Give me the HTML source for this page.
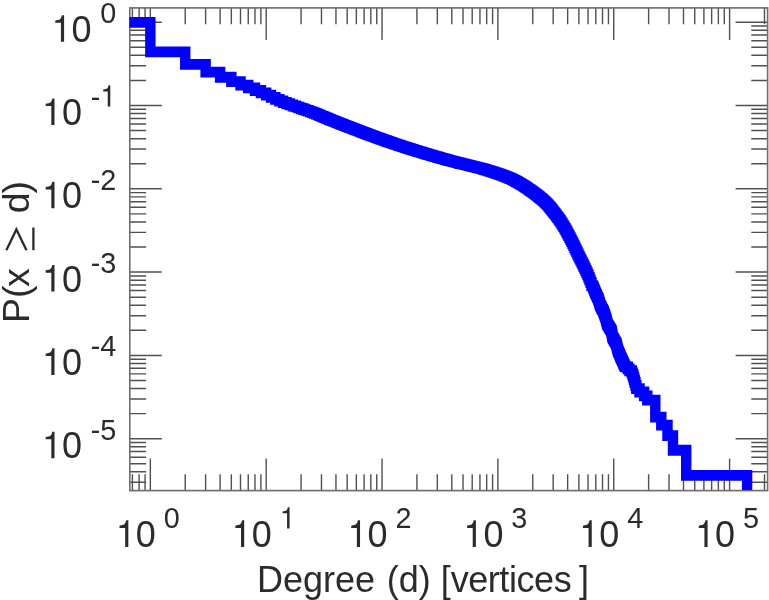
<!DOCTYPE html>
<html><head><meta charset="utf-8"><title>Degree distribution</title>
<style>html,body{margin:0;padding:0;background:#fff;}body{width:769px;height:600px;overflow:hidden;font-family:"Liberation Sans",sans-serif;}svg{display:block;}</style>
</head><body>
<svg width="769" height="600" viewBox="0 0 769 600">
<rect width="769" height="600" fill="#fff"/>
<defs><filter id="soft" x="0" y="0" width="100%" height="100%" filterUnits="userSpaceOnUse" color-interpolation-filters="sRGB"><feGaussianBlur stdDeviation="0.45"/></filter></defs>
<g filter="url(#soft)"><g transform="scale(1,1.04)">
<path d="M132.40 471.73V456.06M132.40 7.60V23.27M139.12 471.73V456.06M139.12 7.60V23.27M145.05 471.73V456.06M145.05 7.60V23.27M150.35 471.73V440.96M150.35 7.60V38.37M185.22 471.73V456.06M185.22 7.60V23.27M205.62 471.73V456.06M205.62 7.60V23.27M220.10 471.73V456.06M220.10 7.60V23.27M231.33 471.73V456.06M231.33 7.60V23.27M240.50 471.73V456.06M240.50 7.60V23.27M248.25 471.73V456.06M248.25 7.60V23.27M254.97 471.73V456.06M254.97 7.60V23.27M260.90 471.73V456.06M260.90 7.60V23.27M266.20 471.73V440.96M266.20 7.60V38.37M301.07 471.73V456.06M301.07 7.60V23.27M321.47 471.73V456.06M321.47 7.60V23.27M335.95 471.73V456.06M335.95 7.60V23.27M347.18 471.73V456.06M347.18 7.60V23.27M356.35 471.73V456.06M356.35 7.60V23.27M364.10 471.73V456.06M364.10 7.60V23.27M370.82 471.73V456.06M370.82 7.60V23.27M376.75 471.73V456.06M376.75 7.60V23.27M382.05 471.73V440.96M382.05 7.60V38.37M416.92 471.73V456.06M416.92 7.60V23.27M437.32 471.73V456.06M437.32 7.60V23.27M451.80 471.73V456.06M451.80 7.60V23.27M463.03 471.73V456.06M463.03 7.60V23.27M472.20 471.73V456.06M472.20 7.60V23.27M479.95 471.73V456.06M479.95 7.60V23.27M486.67 471.73V456.06M486.67 7.60V23.27M492.60 471.73V456.06M492.60 7.60V23.27M497.90 471.73V440.96M497.90 7.60V38.37M532.77 471.73V456.06M532.77 7.60V23.27M553.17 471.73V456.06M553.17 7.60V23.27M567.65 471.73V456.06M567.65 7.60V23.27M578.88 471.73V456.06M578.88 7.60V23.27M588.05 471.73V456.06M588.05 7.60V23.27M595.80 471.73V456.06M595.80 7.60V23.27M602.52 471.73V456.06M602.52 7.60V23.27M608.45 471.73V456.06M608.45 7.60V23.27M613.75 471.73V440.96M613.75 7.60V38.37M648.62 471.73V456.06M648.62 7.60V23.27M669.02 471.73V456.06M669.02 7.60V23.27M683.50 471.73V456.06M683.50 7.60V23.27M694.73 471.73V456.06M694.73 7.60V23.27M703.90 471.73V456.06M703.90 7.60V23.27M711.65 471.73V456.06M711.65 7.60V23.27M718.37 471.73V456.06M718.37 7.60V23.27M724.30 471.73V456.06M724.30 7.60V23.27M729.60 471.73V440.96M729.60 7.60V38.37M764.47 471.73V456.06M764.47 7.60V23.27M129.8 463.71h16.3M767.6 463.71h-16.3M129.8 453.70h16.3M767.6 453.70h-16.3M129.8 445.94h16.3M767.6 445.94h-16.3M129.8 439.60h16.3M767.6 439.60h-16.3M129.8 434.23h16.3M767.6 434.23h-16.3M129.8 429.59h16.3M767.6 429.59h-16.3M129.8 425.49h16.3M767.6 425.49h-16.3M129.8 421.83h32M767.6 421.83h-32M129.8 397.72h16.3M767.6 397.72h-16.3M129.8 383.61h16.3M767.6 383.61h-16.3M129.8 373.60h16.3M767.6 373.60h-16.3M129.8 365.84h16.3M767.6 365.84h-16.3M129.8 359.50h16.3M767.6 359.50h-16.3M129.8 354.14h16.3M767.6 354.14h-16.3M129.8 349.49h16.3M767.6 349.49h-16.3M129.8 345.40h16.3M767.6 345.40h-16.3M129.8 341.73h32M767.6 341.73h-32M129.8 317.62h16.3M767.6 317.62h-16.3M129.8 303.52h16.3M767.6 303.52h-16.3M129.8 293.51h16.3M767.6 293.51h-16.3M129.8 285.75h16.3M767.6 285.75h-16.3M129.8 279.40h16.3M767.6 279.40h-16.3M129.8 274.04h16.3M767.6 274.04h-16.3M129.8 269.40h16.3M767.6 269.40h-16.3M129.8 265.30h16.3M767.6 265.30h-16.3M129.8 261.63h32M767.6 261.63h-32M129.8 237.52h16.3M767.6 237.52h-16.3M129.8 223.42h16.3M767.6 223.42h-16.3M129.8 213.41h16.3M767.6 213.41h-16.3M129.8 205.65h16.3M767.6 205.65h-16.3M129.8 199.31h16.3M767.6 199.31h-16.3M129.8 193.95h16.3M767.6 193.95h-16.3M129.8 189.30h16.3M767.6 189.30h-16.3M129.8 185.20h16.3M767.6 185.20h-16.3M129.8 181.54h32M767.6 181.54h-32M129.8 157.43h16.3M767.6 157.43h-16.3M129.8 143.32h16.3M767.6 143.32h-16.3M129.8 133.32h16.3M767.6 133.32h-16.3M129.8 125.55h16.3M767.6 125.55h-16.3M129.8 119.21h16.3M767.6 119.21h-16.3M129.8 113.85h16.3M767.6 113.85h-16.3M129.8 109.20h16.3M767.6 109.20h-16.3M129.8 105.11h16.3M767.6 105.11h-16.3M129.8 101.44h32M767.6 101.44h-32M129.8 77.33h16.3M767.6 77.33h-16.3M129.8 63.23h16.3M767.6 63.23h-16.3M129.8 53.22h16.3M767.6 53.22h-16.3M129.8 45.46h16.3M767.6 45.46h-16.3M129.8 39.12h16.3M767.6 39.12h-16.3M129.8 33.75h16.3M767.6 33.75h-16.3M129.8 29.11h16.3M767.6 29.11h-16.3M129.8 25.01h16.3M767.6 25.01h-16.3M129.8 21.35h32M767.6 21.35h-32" stroke="#505050" stroke-width="1.4" fill="none"/>
<rect x="129.8" y="7.60" width="637.80" height="464.13" fill="none" stroke="#6e6e6e" stroke-width="1.6"/>
<path d="M129.40 21.44H150.35V49.81H185.22V61.83H205.62V69.28H220.10V74.28H231.33V78.41H240.50V81.78H248.25V84.52H254.97V87.02H260.90V89.33H266.20V91.54H271.00V93.63H275.37V95.50H279.40V97.14H283.13V98.54H286.60V99.77H289.85V100.89H292.90V101.90H295.77V102.85H298.49V103.73H301.07V104.57H303.53V105.38H305.87V106.16H308.11V106.91H310.25V107.65H312.30V108.38H314.27V109.10H316.17V109.81H318.00V110.50H319.77V111.18H321.47V111.84H323.12V112.49H324.72V113.11H326.27V113.72H327.77V114.31H329.23V114.89H330.65V115.44H332.03V115.98H333.37V116.50H334.67V117.00H335.95V117.48H337.19V117.95H338.40V118.40H339.59V118.84H340.74V119.26H341.87V119.68H342.98V120.08H344.06V120.48H345.12V120.87H346.16V121.25H347.18V121.62H348.17V121.98H349.15V122.34H350.11V122.69H351.05V123.03H351.97V123.37H352.88V123.70H353.77V124.02H354.64V124.34H355.50V124.71H356.50V125.07H357.50V125.44H358.50V125.81H359.50V126.17H360.50V126.54H361.50V126.90H362.50V127.27H363.50V127.63H364.50V127.99H365.50V128.35H366.50V128.71H367.50V129.07H368.50V129.43H369.50V129.79H370.50V130.14H371.50V130.50H372.50V130.85H373.50V131.21H374.50V131.56H375.50V131.91H376.50V132.26H377.50V132.61H378.50V132.96H379.50V133.30H380.50V133.65H381.50V133.99H382.50V134.34H383.50V134.68H384.50V135.02H385.50V135.36H386.50V135.69H387.50V136.03H388.50V136.37H389.50V136.70H390.50V137.03H391.50V137.36H392.50V137.69H393.50V138.02H394.50V138.35H395.50V138.67H396.50V139.00H397.50V139.32H398.50V139.64H399.50V139.96H400.50V140.27H401.50V140.59H402.50V140.90H403.50V141.21H404.50V141.53H405.50V141.84H406.50V142.14H407.50V142.45H408.50V142.76H409.50V143.06H410.50V143.37H411.50V143.67H412.50V143.98H413.50V144.28H414.50V144.58H415.50V144.88H416.50V145.18H417.50V145.47H418.50V145.77H419.50V146.07H420.50V146.36H421.50V146.65H422.50V146.95H423.50V147.24H424.50V147.53H425.50V147.82H426.50V148.10H427.50V148.39H428.50V148.68H429.50V148.96H430.50V149.24H431.50V149.53H432.50V149.81H433.50V150.09H434.50V150.37H435.50V150.64H436.50V150.92H437.50V151.19H438.50V151.47H439.50V151.74H440.50V152.01H441.50V152.28H442.50V152.55H443.50V152.82H444.50V153.09H445.50V153.36H446.50V153.62H447.50V153.88H448.50V154.15H449.50V154.41H450.50V154.67H451.50V154.93H452.50V155.18H453.50V155.44H454.50V155.70H455.50V155.95H456.50V156.20H457.50V156.45H458.50V156.70H459.50V156.95H460.50V157.19H461.50V157.43H462.50V157.66H463.50V157.89H464.50V158.11H465.50V158.34H466.50V158.56H467.50V158.78H468.50V159.00H469.50V159.22H470.50V159.44H471.50V159.67H472.50V159.90H473.50V160.14H474.50V160.38H475.50V160.62H476.50V160.88H477.50V161.13H478.50V161.39H479.50V161.65H480.50V161.91H481.50V162.18H482.50V162.45H483.50V162.73H484.50V163.01H485.50V163.29H486.50V163.58H487.50V163.88H488.50V164.18H489.50V164.48H490.50V164.79H491.50V165.09H492.50V165.40H493.50V165.71H494.50V166.03H495.50V166.35H496.50V166.67H497.50V167.00H498.50V167.33H499.50V167.66H500.50V168.01H501.50V168.35H502.50V168.71H503.50V169.07H504.50V169.44H505.50V169.82H506.50V170.20H507.50V170.60H508.50V171.00H509.50V171.41H510.50V171.84H511.50V172.29H512.50V172.75H513.50V173.24H514.50V173.74H515.50V174.26H516.50V174.78H517.50V175.33H518.50V175.88H519.50V176.43H520.50V177.00H521.50V177.58H522.50V178.18H523.50V178.79H524.50V179.42H525.50V180.06H526.50V180.72H527.50V181.38H528.50V182.05H529.50V182.72H530.50V183.40H531.50V184.08H532.50V184.77H533.50V185.47H534.50V186.19H535.50V186.92H536.50V187.66H537.50V188.42H538.50V189.19H539.50V189.96H540.50V190.73H541.50V191.53H542.50V192.34H543.50V193.19H544.50V194.08H545.50V195.00H546.50V195.99H547.50V197.03H548.50V198.13H549.50V199.27H550.50V200.45H551.50V201.66H552.50V202.89H553.50V204.14H554.50V205.39H555.50V206.65H556.50V207.93H557.50V209.24H558.50V210.59H559.50V211.97H560.50V213.39H561.50V214.86H562.50V216.38H563.50V217.97H564.50V219.62H565.50V221.31H566.50V223.05H567.50V224.81H568.50V226.62H569.50V228.47H570.50V230.37H571.50V232.30H572.50V234.26H573.50V236.25H574.50V238.24H575.50V240.25H576.50V242.25H577.50V244.25H578.50V246.24H579.50V248.21H580.50V250.15H581.50V252.09H582.50V254.03H583.50V256.00H584.50V257.99H585.50V260.04H586.50V262.15H587.50V264.34H588.50V266.65H589.50V269.03H590.50V271.46H591.50V274.66H592.82V275.43H593.14V276.20H593.46V276.97H593.79V277.74H594.10V278.51H594.41V279.27H594.73V280.04H595.04V280.81H595.37V281.58H595.73V282.35H596.09V283.12H596.46V283.89H596.84V284.66H597.23V285.43H597.62V286.20H598.01V286.97H598.33V287.74H598.60V288.51H598.87V289.27H599.12V290.04H599.36V290.81H599.59V291.58H599.81V292.35H600.03V293.12H600.34V293.89H600.73V294.66H601.13V295.43H601.54V296.20H601.95V296.97H602.37V297.74H602.80V298.51H603.23V299.27H603.60V300.04H603.89V300.81H604.18V301.58H604.46V302.35H604.74V303.12H605.02V303.89H605.30V304.66H605.57V305.43H605.83V306.20H606.05V306.97H606.27V307.74H606.49V308.51H606.69V309.27H606.90V310.04H607.09V310.81H607.29V311.58H607.58V312.35H608.08V313.12H608.57V313.89H609.07V314.66H609.56V315.43H610.05V316.20H610.54V316.97H611.03V317.74H611.48V318.51H611.63V319.27H611.77V320.04H611.92V320.81H612.06V321.58H612.21V322.35H612.35V323.12H612.49V323.89H612.63V324.66H613.09V325.43H613.55V326.20H614.01V326.97H614.47V327.74H614.93V328.51H615.39V329.27H615.85V330.04H616.31V330.81H616.53V331.58H616.71V332.35H616.89V333.12H617.08V333.89H617.27V334.66H617.46V335.43H617.67V336.20H617.87V336.97H618.19V337.74H618.54V338.51H618.88V339.27H619.22V340.04H619.54V340.81H619.86V341.58H620.16V342.35H620.46V343.12H620.81V343.89H621.20V344.66H621.58V345.43H621.96V346.20H622.33V346.97H622.70V347.74H623.06V348.51H623.42V349.27H623.78V350.04H624.16V350.81H624.53V351.58H624.90V352.35H625.26V352.81H627.80V354.60H629.50V356.48H631.80V358.47H632.60V360.57H633.40V362.82H634.00V365.22H634.70V367.80H635.50V370.58H636.30V373.61H639.50V376.92H644.10V380.59H647.30V384.69H655.30V389.33H655.30V394.69H655.30V401.03H661.30V408.80H667.50V418.80H673.00V432.91H686.20V457.02H747.1V471.06" stroke="#0000ff" stroke-width="10.4" fill="none" stroke-linejoin="miter" stroke-linecap="butt"/>
<g font-family="Liberation Sans, sans-serif" fill="#2b2b2b">
<text x="100.29" y="22.40" font-size="28.8">0</text>
<path transform="translate(51.60,40.10) scale(0.03600,-0.03600)" d="M259 505V0H347V709H289C258 600 238 585 102 568V505Z"/><text x="71.62" y="40.10" font-size="36">0</text>
<text x="90.70" y="102.50" font-size="28.8">-</text><path transform="translate(100.29,102.50) scale(0.02880,-0.02880)" d="M259 505V0H347V709H289C258 600 238 585 102 568V505Z"/>
<path transform="translate(42.00,120.19) scale(0.03600,-0.03600)" d="M259 505V0H347V709H289C258 600 238 585 102 568V505Z"/><text x="62.02" y="120.19" font-size="36">0</text>
<text x="90.70" y="182.60" font-size="28.8">-</text><text x="100.29" y="182.60" font-size="28.8">2</text>
<path transform="translate(42.00,200.29) scale(0.03600,-0.03600)" d="M259 505V0H347V709H289C258 600 238 585 102 568V505Z"/><text x="62.02" y="200.29" font-size="36">0</text>
<text x="90.70" y="262.69" font-size="28.8">-</text><text x="100.29" y="262.69" font-size="28.8">3</text>
<path transform="translate(42.00,280.38) scale(0.03600,-0.03600)" d="M259 505V0H347V709H289C258 600 238 585 102 568V505Z"/><text x="62.02" y="280.38" font-size="36">0</text>
<text x="90.70" y="342.79" font-size="28.8">-</text><text x="100.29" y="342.79" font-size="28.8">4</text>
<path transform="translate(42.00,360.48) scale(0.03600,-0.03600)" d="M259 505V0H347V709H289C258 600 238 585 102 568V505Z"/><text x="62.02" y="360.48" font-size="36">0</text>
<text x="90.70" y="422.88" font-size="28.8">-</text><text x="100.29" y="422.88" font-size="28.8">5</text>
<path transform="translate(42.00,440.58) scale(0.03600,-0.03600)" d="M259 505V0H347V709H289C258 600 238 585 102 568V505Z"/><text x="62.02" y="440.58" font-size="36">0</text>
<path transform="translate(115.85,525.87) scale(0.03600,-0.03600)" d="M259 505V0H347V709H289C258 600 238 585 102 568V505Z"/><text x="135.87" y="525.87" font-size="36">0</text>
<text x="163.74" y="508.17" font-size="28.8">0</text>
<path transform="translate(231.70,525.87) scale(0.03600,-0.03600)" d="M259 505V0H347V709H289C258 600 238 585 102 568V505Z"/><text x="251.72" y="525.87" font-size="36">0</text>
<path transform="translate(279.59,508.17) scale(0.02880,-0.02880)" d="M259 505V0H347V709H289C258 600 238 585 102 568V505Z"/>
<path transform="translate(347.55,525.87) scale(0.03600,-0.03600)" d="M259 505V0H347V709H289C258 600 238 585 102 568V505Z"/><text x="367.57" y="525.87" font-size="36">0</text>
<text x="395.44" y="508.17" font-size="28.8">2</text>
<path transform="translate(463.40,525.87) scale(0.03600,-0.03600)" d="M259 505V0H347V709H289C258 600 238 585 102 568V505Z"/><text x="483.42" y="525.87" font-size="36">0</text>
<text x="511.29" y="508.17" font-size="28.8">3</text>
<path transform="translate(579.25,525.87) scale(0.03600,-0.03600)" d="M259 505V0H347V709H289C258 600 238 585 102 568V505Z"/><text x="599.27" y="525.87" font-size="36">0</text>
<text x="627.14" y="508.17" font-size="28.8">4</text>
<path transform="translate(695.10,525.87) scale(0.03600,-0.03600)" d="M259 505V0H347V709H289C258 600 238 585 102 568V505Z"/><text x="715.12" y="525.87" font-size="36">0</text>
<text x="742.99" y="508.17" font-size="28.8">5</text>
<text x="256.9" y="569.13" font-size="36">Degree <tspan dx="1.7">(d) [</tspan><tspan letter-spacing="-0.42">vertices</tspan><tspan dx="7.6">]</tspan></text>
<text transform="translate(29,310.48) rotate(-90)" font-size="36">P(<tspan dx="-1.4">x</tspan></text>
<text transform="translate(29,205.10) rotate(-90)" font-size="36">d<tspan dx="-1">)</tspan></text>
</g>
<path d="M6.3 240.58L16.4 220.67L26.5 240.58M33.4 218.85V240.58" stroke="#2b2b2b" stroke-width="2.3" fill="none" stroke-linejoin="miter"/>
</g></g>
</svg>
</body></html>
